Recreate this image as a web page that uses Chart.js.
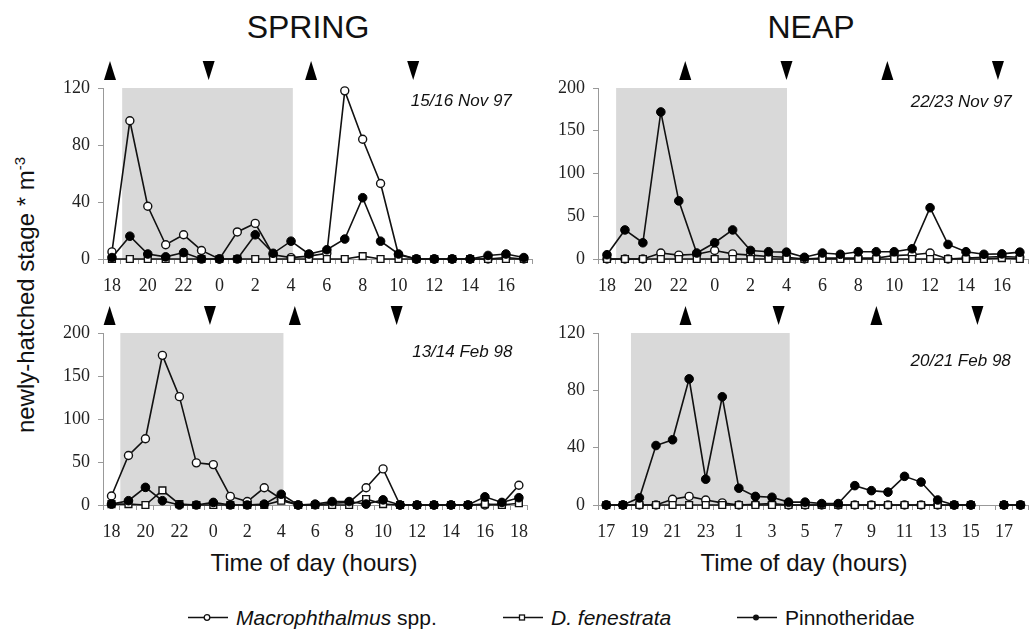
<!DOCTYPE html>
<html>
<head>
<meta charset="utf-8">
<script src="https://cdn.jsdelivr.net/npm/chart.js@4.4.0/dist/chart.umd.min.js"></script>
<style>
html, body { margin: 0; padding: 0; background: #fff; overflow: hidden; }
#wrap { position: relative; width: 1029px; height: 636px; overflow: hidden; font-family: 'Liberation Sans', Arial, sans-serif; color: #111; }
canvas { position: absolute; }
.t { position: absolute; transform: translate(-50%, -50%); white-space: nowrap; line-height: 1; }
.leg { position: absolute; transform: translateY(-50%); display: flex; align-items: center; font-size: 21px; white-space: nowrap; line-height: 1; }
.leg svg { margin-right: 7px; }
</style>
</head>
<body>
<div id="wrap">
  <div class="t" style="left:308px;top:27px;font-size:32px">SPRING</div>
  <div class="t" style="left:811px;top:27px;font-size:32px">NEAP</div>
  <div class="t" style="left:25px;top:295px;font-size:24px;transform:translate(-50%,-50%) rotate(-90deg)">newly-hatched stage * m<sup style="font-size:15px">-3</sup></div>
  <div class="t" style="left:314px;top:563px;font-size:24px">Time of day (hours)</div>
  <div class="t" style="left:804px;top:563px;font-size:24px">Time of day (hours)</div>

  <div class="leg" style="left:187px;top:617px">
    <svg width="42" height="12"><line x1="1" y1="6" x2="41" y2="6" stroke="#111" stroke-width="1.6"/><circle cx="20" cy="6" r="2.8" fill="#fff" stroke="#111" stroke-width="1.3"/></svg>
    <span><i>Macrophthalmus</i> spp.</span>
  </div>
  <div class="leg" style="left:502px;top:617px">
    <svg width="42" height="12"><line x1="1" y1="6" x2="41" y2="6" stroke="#111" stroke-width="1.6"/><rect x="17.5" y="3.5" width="5" height="5" fill="#fff" stroke="#111" stroke-width="1.3"/></svg>
    <span><i>D. fenestrata</i></span>
  </div>
  <div class="leg" style="left:736px;top:617px">
    <svg width="42" height="12"><line x1="1" y1="6" x2="41" y2="6" stroke="#111" stroke-width="1.6"/><circle cx="20" cy="6" r="3" fill="#111"/></svg>
    <span>Pinnotheridae</span>
  </div>

  <canvas id="c1" width="489" height="244" style="left:50px;top:55px"></canvas>
  <canvas id="c2" width="490" height="244" style="left:545px;top:55px"></canvas>
  <canvas id="c3" width="489" height="245" style="left:50px;top:300px"></canvas>
  <canvas id="c4" width="490" height="245" style="left:545px;top:300px"></canvas>
</div>
<script>
// hours of day for each sampling run
const hoursNov = ['18','19','20','21','22','23','0','1','2','3','4','5','6','7','8','9','10','11','12','13','14','15','16','17']
const hoursFeb13 = ['18','19','20','21','22','23','0','1','2','3','4','5','6','7','8','9','10','11','12','13','14','15','16','17','18']
const hoursFeb20 = ['17','18','19','20','21','22','23','0','1','2','3','4','5','6','7','8','9','10','11','12','13','14','15','16','17','18']

// 15/16 Nov 97
const macroNov15 = [5, 97, 37, 10, 17, 6, 0, 19, 25, 3, 1, 2, 4, 118, 84, 53, 3, 0, 0, 0, 0, 0, 1, 0]
const dfenNov15 = [0, 0, 0, 0, 0, 0, 0, 0, 0, 0, 0, 0, 0, 0, 2, 0, 0, 0, 0, 0, 0, 0, 0, 0]
const pinnoNov15 = [1, 16, 3.5, 1.5, 4.5, 0, 0, 0, 17, 4, 12.5, 3.5, 6.5, 14, 43, 12.5, 3.5, 0, 0, 0, 0, 2.5, 3.5, 1]

// 22/23 Nov 97
const macroNov22 = [0, 0, 0, 7, 4.5, 5.5, 10, 6, 4.5, 3, 2, 0, 1, 1, 1, 1, 4, 5, 7, 0, 1, 2, 3, 2]
const dfenNov22 = [0, 0, 0, 0, 0, 0, 0, 0, 0, 0, 0, 0, 0, 0, 0, 0, 0, 0, 0, 0, 0, 0, 1, 0]
const pinnoNov22 = [5, 34, 19, 172, 68, 7, 19, 34, 10, 8.5, 8, 2, 7, 5.5, 8.5, 8.5, 8.5, 12, 60, 17, 8.5, 5.5, 6, 8]

// 13/14 Feb 98
const macroFeb13 = [10.5, 57.5, 77, 174, 126, 49, 47, 10, 4, 20, 7, 0, 0, 2, 3, 20, 42, 0, 0, 0, 0, 0, 0, 1, 23]
const dfenFeb13 = [1, 1, 0, 17, 1, 0, 0, 0, 0, 0, 5, 0, 0, 0, 0, 7, 1, 0, 0, 0, 0, 0, 1, 0, 2]
const pinnoFeb13 = [1, 5, 20.5, 5, 0, 0, 3, 0, 0, 1, 12.5, 0, 1, 4, 4, 1, 6, 0, 0, 0, 0, 0, 9.5, 3, 8.5]

// 20/21 Feb 98 (no sample at 16h)
const macroFeb20 = [0, 0, 0, 0, 4, 6, 3.5, 1.5, 0, 0.5, 1, 0, 0, 0, 0, 0, 0, 0, 0, 0, 0, 0, 0, null, 0, 0]
const dfenFeb20 = [0, 0, 0, 0, 0, 0, 0, 0, 0, 0, 0, 0, 0, 0, 0, 0, 0, 0, 0, 0, 0, 0, 0, null, 0, 0]
const pinnoFeb20 = [0, 0, 5, 41.5, 45.5, 88, 18, 75.5, 11.7, 6, 5.4, 2, 2, 1, 1, 13.5, 10, 9, 20, 16, 3.5, 0, 0, null, 0, 0]

// darkness (category index units) and tide arrows
const darkNov15 = [0.57, 10.1]
const darkNov22 = [0.51, 10.03]
const darkFeb13 = [0.52, 10.13]
const darkFeb20 = [1.49, 11.07]
const upNov15 = [-0.11, 11.12], downNov15 = [5.4, 16.82]
const upNov22 = [4.36, 15.62], downNov22 = [10.0, 21.78]
const upFeb13 = [-0.11, 10.8], downFeb13 = [5.8, 16.8]
const upFeb20 = [4.78, 16.3], downFeb20 = [10.4, 22.4]

Chart.defaults.font.family = "'Liberation Serif', 'Times New Roman', serif"
Chart.defaults.font.size = 18
Chart.defaults.color = '#222'

const decor = {
    id: 'decor',
    beforeDatasetsDraw(chart, args, opts) {
        const x = chart.scales.x, y = chart.scales.y
        const c = chart.ctx
        c.save()
        c.fillStyle = '#d9d9d9'
        const x0 = x.getPixelForValue(opts.dark[0]), x1 = x.getPixelForValue(opts.dark[1])
        const yt = y.getPixelForValue(y.max), yb = y.getPixelForValue(0)
        c.fillRect(x0, yt, x1 - x0, yb - yt)
        c.restore()
    },
    afterDraw(chart, args, opts) {
        const x = chart.scales.x
        const area = chart.chartArea
        const c = chart.ctx
        c.save()
        c.fillStyle = '#000'
        const bot = area.top - 8, top = area.top - 27, w = 6
        opts.up.forEach(v => {
            const px = x.getPixelForValue(v)
            c.beginPath(); c.moveTo(px, top); c.lineTo(px + w, bot); c.lineTo(px - w, bot); c.closePath(); c.fill()
        })
        opts.down.forEach(v => {
            const px = x.getPixelForValue(v)
            c.beginPath(); c.moveTo(px - w, top); c.lineTo(px + w, top); c.lineTo(px, bot); c.closePath(); c.fill()
        })
        c.font = "italic 17px 'Liberation Sans', Arial, sans-serif"
        c.textAlign = 'right'
        c.textBaseline = 'middle'
        c.fillStyle = '#111'
        c.fillText(opts.date, area.right + opts.dx, area.top + opts.dy)
        c.restore()
    }
}

function makePanel(id, labels, macro, dfen, pinno, yMax, yStep, dark, up, down, date, dx, dy) {
    return new Chart(document.getElementById(id), {
        type: 'line',
        data: {
            labels: labels,
            datasets: [{
                label: 'Macrophthalmus spp.',
                data: macro,
                borderColor: '#111', borderWidth: 1.6, tension: 0,
                pointStyle: 'circle', pointRadius: 4, pointBorderWidth: 1.4,
                pointBackgroundColor: '#fff', pointBorderColor: '#111',
                order: 2, clip: false
            }, {
                label: 'D. fenestrata',
                data: dfen,
                borderColor: '#111', borderWidth: 1.6, tension: 0,
                pointStyle: 'rect', pointRadius: 4.8, pointBorderWidth: 1.4,
                pointBackgroundColor: '#fff', pointBorderColor: '#111',
                order: 1, clip: false
            }, {
                label: 'Pinnotheridae',
                data: pinno,
                borderColor: '#111', borderWidth: 1.6, tension: 0,
                pointStyle: 'circle', pointRadius: 4.3, pointBorderWidth: 1,
                pointBackgroundColor: '#000', pointBorderColor: '#000',
                order: 0, clip: false
            }]
        },
        options: {
            responsive: false,
            animation: false,
            devicePixelRatio: 1,
            spanGaps: false,
            layout: { padding: { top: 33, left: 0, right: 0, bottom: 0 } },
            plugins: {
                legend: { display: false },
                tooltip: { enabled: false },
                decor: { dark: dark, up: up, down: down, date: date, dx: dx, dy: dy }
            },
            scales: {
                x: {
                    offset: true,
                    grid: { offset: true, drawOnChartArea: false, drawTicks: true, tickLength: 5, color: '#999' },
                    border: { color: '#999', width: 1 },
                    ticks: {
                        autoSkip: false, maxRotation: 0, padding: 11,
                        callback: function (v, i) { return i % 2 === 0 ? this.getLabelForValue(v) : '' }
                    },
                    afterFit: s => { s.height = 40 }
                },
                y: {
                    min: 0, max: yMax,
                    grid: { drawOnChartArea: false, drawTicks: true, tickLength: 5, color: '#999' },
                    border: { color: '#999', width: 1 },
                    ticks: { stepSize: yStep, padding: 8 },
                    afterFit: s => { s.width = 53 }
                }
            }
        },
        plugins: [decor]
    })
}

makePanel('c1', hoursNov, macroNov15, dfenNov15, pinnoNov15, 120, 40, darkNov15, upNov15, downNov15, '15/16 Nov 97', -21, 13)
makePanel('c2', hoursNov, macroNov22, dfenNov22, pinnoNov22, 200, 50, darkNov22, upNov22, downNov22, '22/23 Nov 97', -17, 14)
makePanel('c3', hoursFeb13, macroFeb13, dfenFeb13, pinnoFeb13, 200, 50, darkFeb13, upFeb13, downFeb13, '13/14 Feb 98', -15, 19)
makePanel('c4', hoursFeb20, macroFeb20, dfenFeb20, pinnoFeb20, 120, 40, darkFeb20, upFeb20, downFeb20, '20/21 Feb 98', -18, 28)
</script>
</body>
</html>
